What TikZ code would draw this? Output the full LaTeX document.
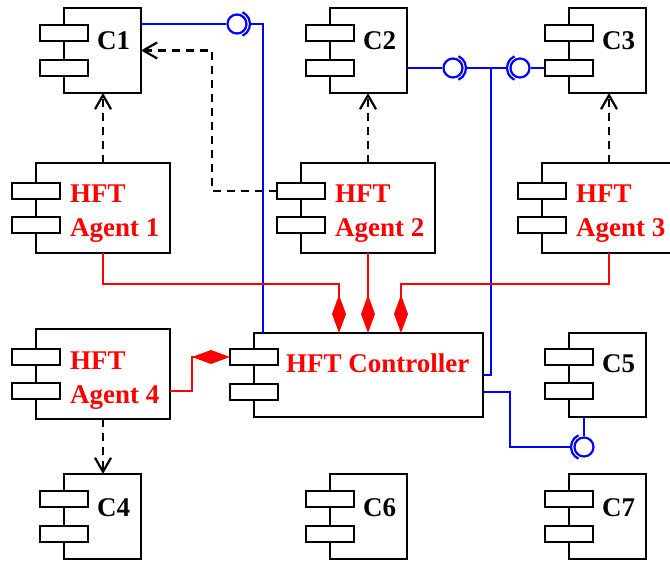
\documentclass[tikz,border=0pt]{standalone}
\usepackage{fontspec}
\setmainfont{Liberation Serif}
\usetikzlibrary{arrows.meta}

\tikzset{
  compbody/.style={draw, line width=2.3pt, fill=white, inner sep=0pt, outer sep=0pt, anchor=north west},
  comptab/.style={compbody, minimum width=48pt, minimum height=16pt},
  clabel/.style={font=\fontsize{27}{34}\selectfont\bfseries, inner sep=0pt, anchor=base west},
  hlabel/.style={clabel, text=red, align=left},
  dep/.style={line width=2.2pt, dash pattern=on 8pt off 6pt, -{Straight Barb[length=14pt,width=16pt]}},
  iface/.style={blue, line width=2.2pt},
  ball/.style={circle, draw=blue, fill=white, line width=2.2pt, minimum size=19pt, inner sep=0pt},
  part/.style={red, line width=2.2pt, -{Diamond[length=38pt,width=14pt]}},
}

\newcommand{\umlpart}[7]{%
  \node[compbody, minimum width=#4pt, minimum height=#5pt] (#1) at (#2,#3) {};
  \node[comptab] (#1-t1) at ([xshift=-24pt,yshift=-#6pt]#1.north west) {};
  \node[comptab] (#1-t2) at ([xshift=-24pt,yshift=-#7pt]#1.north west) {};
}

\begin{document}
\begin{tikzpicture}[x=1pt,y=-1pt]
\useasboundingbox (0,0) rectangle (670,561);

\foreach \n/\x/\y/\t in {c1/64/8/C1, c2/330/8/C2, c3/569/8/C3, c4/64/474/C4, c6/330/474/C6, c7/569/474/C7} {
  \umlpart{\n}{\x}{\y}{77}{85}{17}{52}
  \node[clabel] (\n-lbl) at (\x+33,\y+42) {\t};
}
\umlpart{c5}{569}{333}{77}{84}{16}{50}
\node[clabel] (c5-lbl) at (602,373) {C5};

\umlpart{a1}{36}{163}{134}{90}{20}{54}
\umlpart{a2}{301}{163}{134}{90}{20}{54}
\umlpart{a3}{542}{163}{134}{90}{20}{54}
\umlpart{a4}{36}{329}{134}{90}{20}{54}
\umlpart{ctrl}{254}{333}{229}{84}{16}{51}

\node[hlabel] (a1-lbl) at (70,237) {HFT\\Agent 1};
\node[hlabel] (a2-lbl) at (335,237) {HFT\\Agent 2};
\node[hlabel] (a3-lbl) at (576,237) {HFT\\Agent 3};
\node[hlabel] (a4-lbl) at (70,404) {HFT\\Agent 4};
\node[clabel, text=red] (ctrl-lbl) at (286,373) {HFT Controller};

\draw[dep] (a1.north) -- (a1.north |- c1.south);
\draw[dep] (a2.north) -- (a2.north |- c2.south);
\draw[dep] (a3.north) -- (a3.north |- c3.south);
\draw[dep] (a2-t1.west) -- ++(-65,0) |- (c1.east);
\draw[dep] (a4.south) -- (a4.south |- c4.north);

\node[ball] (ball1) at (237,24) {};
\node[ball] (ball2) at (453,68) {};
\node[ball] (ball3) at (520,68) {};
\node[ball] (ball5) at (584,447) {};
\coordinate (junc) at (491,68);

\draw[iface] ([yshift=-16pt]c1.north east) -- (ball1);
\draw[iface] ([shift={(-65:13pt)}]ball1.center) arc[start angle=-65, end angle=65, radius=13pt];
\draw[iface] ([xshift=13pt]ball1.center) -| ([xshift=9pt]ctrl.north west);

\draw[iface] ([yshift=-60pt]c2.north east) -- (ball2);
\draw[iface] ([shift={(-65:13pt)}]ball2.center) arc[start angle=-65, end angle=65, radius=13pt];
\draw[iface] ([xshift=13pt]ball2.center) -- (junc) -- ([xshift=-13pt]ball3.center);
\draw[iface] ([shift={(115:13pt)}]ball3.center) arc[start angle=115, end angle=245, radius=13pt];
\draw[iface] (ball3) -- (c3-t2);
\draw[iface] (junc) |- (ctrl.east);

\draw[iface] ([yshift=-17pt]ctrl.east) -- ++(27,0) |- ([xshift=-13pt]ball5.center);
\draw[iface] ([shift={(115:13pt)}]ball5.center) arc[start angle=115, end angle=245, radius=13pt];
\draw[iface] (ball5) -- (ball5 |- c5.south);

\draw[part] (a1.south) -- ++(0,31) -| ([xshift=-29.5pt]ctrl.north);
\draw[part] (a2.south) -- (a2.south |- ctrl.north);
\draw[part] (a3.south) -- ++(0,31) -| ([xshift=32.5pt]ctrl.north);
\draw[part] ([yshift=-17pt]a4.east) -- ++(22,0) |- (ctrl-t1.west);
\end{tikzpicture}
\end{document}
